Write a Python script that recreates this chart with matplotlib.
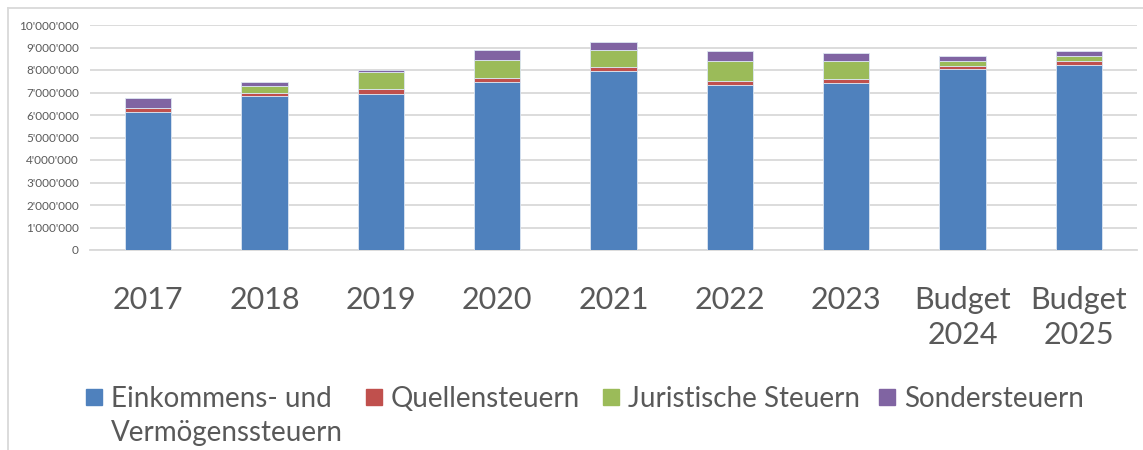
import matplotlib
matplotlib.use("Agg")
import matplotlib.pyplot as plt
from matplotlib.lines import Line2D
from matplotlib.patches import Rectangle
from matplotlib.ticker import FuncFormatter, MultipleLocator
import numpy as np

# values
categories = ["2017", "2018", "2019", "2020", "2021", "2022", "2023",
              "Budget\n2024", "Budget\n2025"]
einkommen = [6150000, 6860000, 6950000, 7480000, 7960000, 7330000, 7440000, 8030000, 8220000]
quellen = [140000, 120000, 190000, 160000, 170000, 180000, 160000, 160000, 180000]
juristisch = [40000, 320000, 760000, 800000, 740000, 880000, 810000, 200000, 220000]
sonder = [430000, 150000, 90000, 430000, 390000, 470000, 350000, 250000, 220000]

series = [
    ("Einkommens- und\nVermögenssteuern", einkommen, "#4F81BD"),
    ("Quellensteuern", quellen, "#C0504D"),
    ("Juristische Steuern", juristisch, "#9BBB59"),
    ("Sondersteuern", sonder, "#8064A2"),
]

plt.rcParams["font.family"] = ["Lato", "DejaVu Sans"]
text_color = "#595959"
grid_color = "#d9d9d9"

W, H = 1143, 450
fig = plt.figure(figsize=(W / 100, H / 100), dpi=100)
ax = fig.add_axes([90 / W, 1 - 250 / H, 1047 / W, 225 / H])

x = np.arange(len(categories))
bottom = np.zeros(len(categories))
for label, vals, color in series:
    ax.bar(x, vals, width=0.4, bottom=bottom, color=color, label=label,
           edgecolor="#dce6f2", linewidth=0.6, zorder=3)
    bottom += np.array(vals)

ax.set_xlim(-0.5, len(categories) - 0.5)
ax.set_ylim(0, 10000000)
ax.yaxis.set_major_locator(MultipleLocator(1000000))
ax.yaxis.set_major_formatter(FuncFormatter(lambda v, p: "{:,.0f}".format(v).replace(",", "'")))
ax.grid(axis="y", color=grid_color, linewidth=1.3, zorder=0)
ax.set_axisbelow(True)

ax.set_xticks(x)
ax.set_xticklabels(categories, fontsize=22, color=text_color, linespacing=1.3)
ax.tick_params(axis="x", length=0, pad=26)
ax.tick_params(axis="y", length=0, pad=8, labelsize=8.5, labelcolor=text_color)

for side in ["top", "right", "left"]:
    ax.spines[side].set_visible(False)
ax.spines["bottom"].set_color(grid_color)
ax.spines["bottom"].set_linewidth(1.3)

# legend drawn by hand so the two-line entry keeps its key on the first line
legend_x = [86, 366, 603, 879]
for (label, vals, color), lx in zip(series, legend_x):
    fig.add_artist(Rectangle((lx / W, 1 - 405 / H), 16 / W, 16 / H, color=color,
                             transform=fig.transFigure))
    fig.text((lx + 25) / W, 1 - 386 / H, label, fontsize=20, color=text_color,
             va="top", ha="left", linespacing=1.38)

# light chart frame (top and left edges visible)
fig.add_artist(Line2D([8 / W, 1], [1 - 8 / H, 1 - 8 / H], color=grid_color, lw=1.3,
                      transform=fig.transFigure))
fig.add_artist(Line2D([8 / W, 8 / W], [0, 1 - 8 / H], color=grid_color, lw=1.3,
                      transform=fig.transFigure))

fig.savefig("out.png", dpi=100)
